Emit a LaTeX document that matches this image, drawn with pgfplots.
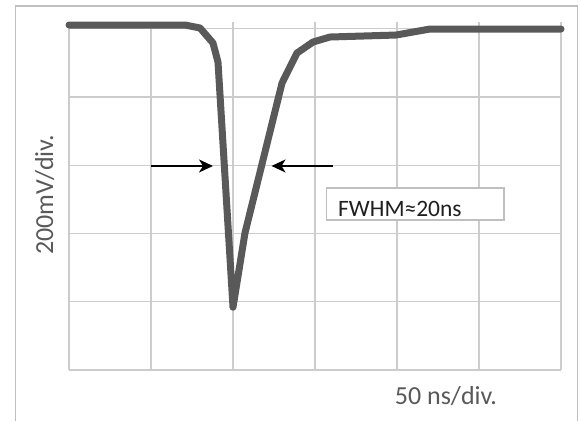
\documentclass[border=0pt]{standalone}
\usepackage{fontspec}
\setmainfont{Carlito}
\usepackage{pgfplots}
\pgfplotsset{compat=1.18}
\usetikzlibrary{arrows.meta}
\definecolor{curve}{HTML}{595959}
\definecolor{gridc}{HTML}{CCCCCC}
\definecolor{framec}{HTML}{BFBFBF}
\definecolor{labc}{HTML}{595959}
\begin{document}
\begin{tikzpicture}[x=1pt,y=1pt]
\path[use as bounding box] (0,0) rectangle (580,421);
\draw[framec, line width=1.3pt] (15.5,0) -- (15.5,415) -- (577.5,415) -- (577.5,0);
\begin{axis}[
  at={(69pt,51pt)}, anchor=south west,
  scale only axis, width=492pt, height=348pt,
  xmin=0, xmax=6, ymin=0, ymax=5.1,
  xtick={0,1,...,6}, ytick={0,1,...,5},
  xticklabels={}, yticklabels={},
  major tick length=0pt,
  grid=major,
  major grid style={gridc, line width=1.3pt},
  axis line style={draw=none},
  clip=false,
  xlabel={\fontsize{26}{30}\selectfont 50 ns/div.},
  ylabel={\fontsize{26}{30}\selectfont 200mV/div.},
  xlabel style={at={(axis description cs:0.766,-0.0977)}, anchor=base, text=labc, inner sep=0pt},
  ylabel style={at={(axis description cs:-0.0325,0.503)}, anchor=base, text=labc, inner sep=0pt},
]
\addplot[curve, line width=7pt, line join=round, line cap=round] coordinates {
  (0,5.056) (1.415,5.056) (1.598,5.012) (1.756,4.792) (1.817,4.513)
  (2.0,0.92) (2.146,2.008) (2.598,4.206) (2.780,4.645) (2.976,4.807)
  (3.183,4.880) (3.988,4.909) (4.402,4.997) (6.0,4.997)
};
\draw[black, line width=1.5pt, -{Stealth[length=14pt,width=13pt,inset=4pt]}] (axis cs:1.0,2.99) -- (axis cs:1.756,2.99);
\draw[black, line width=1.5pt, -{Stealth[length=14pt,width=13pt,inset=4pt]}] (axis cs:3.22,2.99) -- (axis cs:2.47,2.99);
\draw[framec, fill=white, line width=1.2pt] (axis cs:3.143,2.198) rectangle (axis cs:5.305,2.667);
\node[anchor=base west, inner sep=0pt, text={black!88}] at (axis cs:3.28,2.246) {\fontsize{23.5}{28}\selectfont FWHM≈20ns};
\end{axis}
\end{tikzpicture}
\end{document}
